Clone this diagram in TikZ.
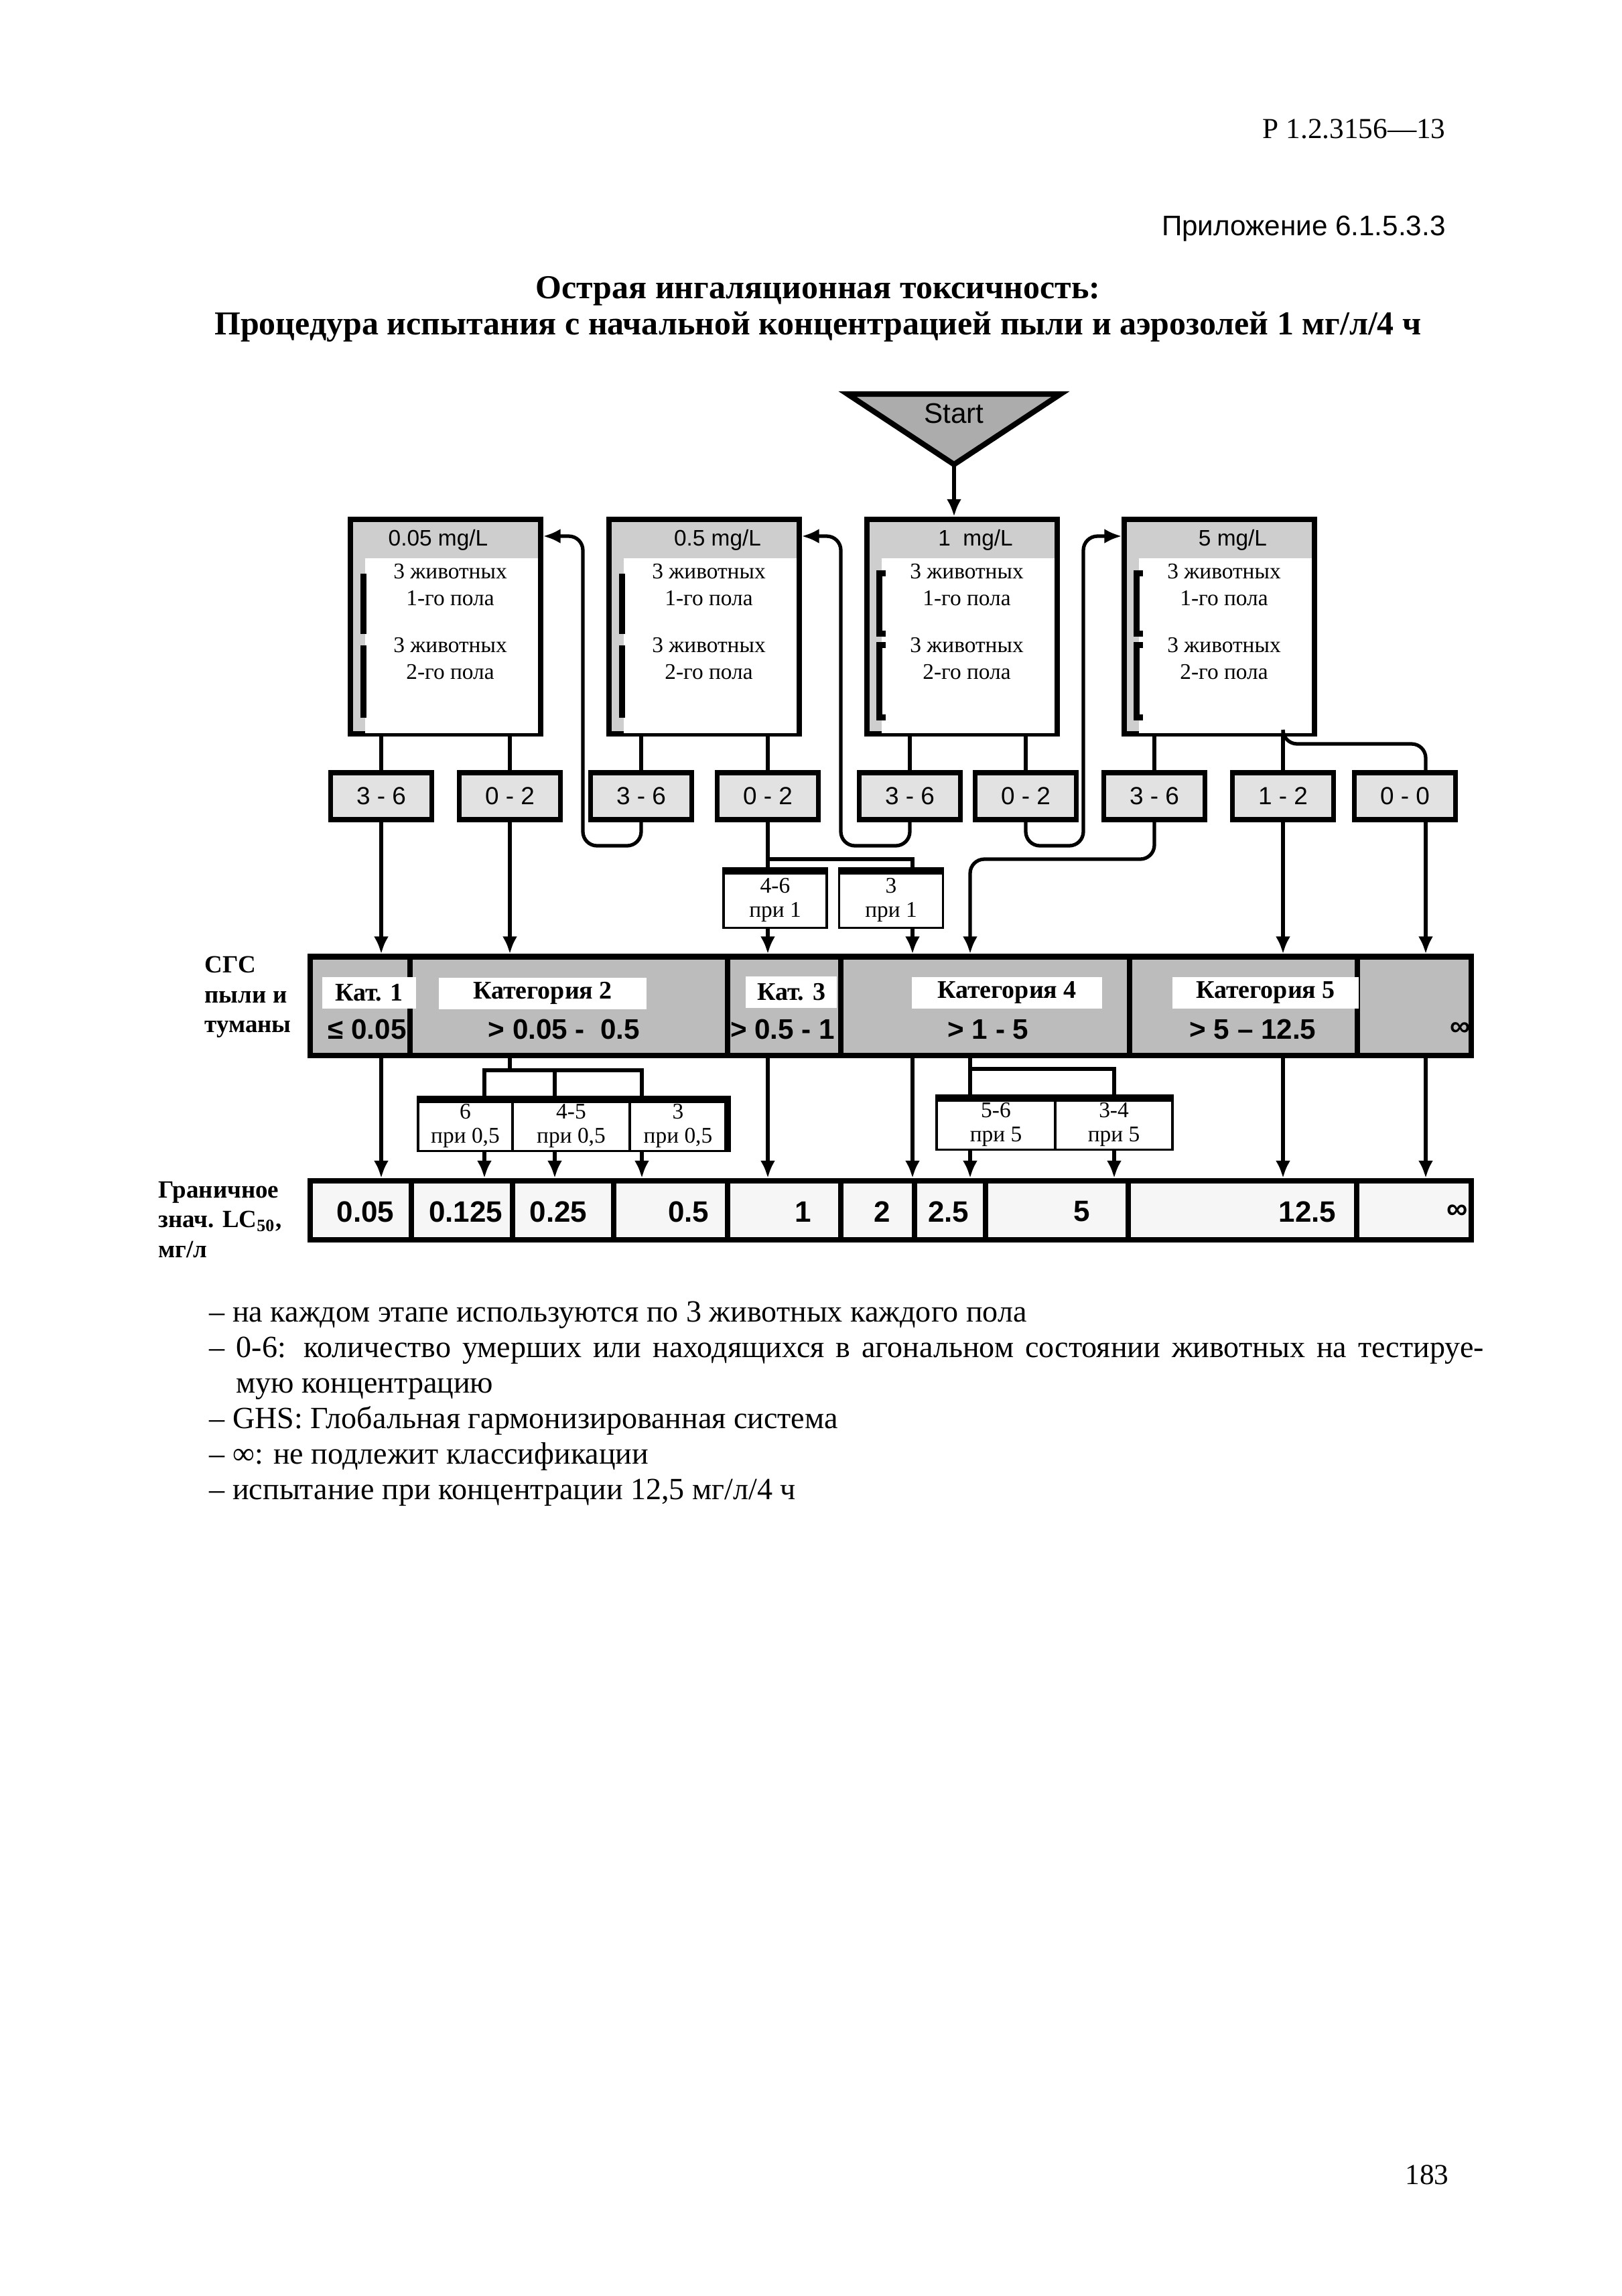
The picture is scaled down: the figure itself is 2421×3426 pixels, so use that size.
\documentclass[tikz,border=0pt]{standalone}
\usepackage{fontspec}
\setmainfont{Liberation Serif}
\setsansfont{Liberation Sans}
\usetikzlibrary{arrows.meta,positioning,calc}
\definecolor{bargray}{RGB}{188,188,188}
\definecolor{headgray}{RGB}{206,206,206}
\definecolor{resgray}{RGB}{226,226,226}
\definecolor{limgray}{RGB}{246,246,246}
\definecolor{startgray}{RGB}{172,172,172}

\begin{document}
\begin{tikzpicture}[x=0.01cm, y=-0.01cm,
    conn/.style={line width=1.5pt},
    arr/.style={conn, -{Latex[length=2.6mm,width=2.2mm]}},
    concbox/.style={draw, line width=2.3pt, fill=headgray, minimum width=28.3mm, minimum height=32mm, inner sep=0pt},
    conclbl/.style={font=\sffamily\fontsize{9.5}{11}\selectfont, inner sep=0pt},
    animals/.style={align=center, font=\fontsize{9.5}{11.4}\selectfont, inner sep=0pt},
    bracket/.style={line width=2.6pt},
    resbox/.style={draw, line width=2.2pt, fill=resgray, minimum width=15.1mm, minimum height=7mm, inner sep=0pt, font=\sffamily\fontsize{10.5}{12}\selectfont},
    catcell/.style={draw, line width=2.3pt, fill=bargray, minimum height=14.7mm, inner sep=0pt},
    catlabel/.style={fill=white, minimum height=4.7mm, inner sep=0pt, font=\bfseries\fontsize{10.8}{12}\selectfont},
    rangelbl/.style={inner sep=0pt, font=\sffamily\bfseries\fontsize{12}{14}\selectfont},
    limcell/.style={draw, line width=2.3pt, fill=limgray, minimum height=8.8mm, inner sep=0pt},
    limval/.style={anchor=east, inner sep=0pt, font=\sffamily\bfseries\fontsize{12.5}{14}\selectfont},
    pribox/.style={draw, line width=1pt, fill=white, align=center, inner sep=0pt, font=\fontsize{9.5}{10.5}\selectfont},
    sidelbl/.style={anchor=west, align=left, inner sep=0pt, font=\bfseries\fontsize{10.5}{12.6}\selectfont}]

    \fill[white] (0,0) rectangle (2421,3426);
    \useasboundingbox (0,0) rectangle (2421,3426);

    % Page header and title
    \node[anchor=east, font=\fontsize{12.3}{14}\selectfont] (docnum) at (2170,192) {Р 1.2.3156—13};
    \node[anchor=east, font=\sffamily\fontsize{12}{14}\selectfont] (annex) at (2170,341) {Приложение 6.1.5.3.3};
    \node[align=center, font=\bfseries\fontsize{14.2}{15.3}\selectfont] (title) at (1221,461)
        {Острая ингаляционная токсичность:\\Процедура испытания с начальной концентрацией пыли и аэрозолей 1 мг/л/4 ч};

    % Start
    \filldraw[fill=startgray, line width=2.3pt] (1265,588) -- (1583,588) -- (1424,693) -- cycle;
    \coordinate (apex) at (1424,693);
    \node[font=\sffamily\fontsize{12}{14}\selectfont] (start) at (1424,617) {Start};

    % Concentration 0.05 mg/L
    \node[concbox] (b1) at (665,935) {};
    \fill[white] ($(b1.north west)+(26,62)$) rectangle ($(b1.south east)+(-8,-5)$);
    \draw[bracket] ($(b1.north west)+(23,85)$) -- ($(b1.north west)+(23,175)$);
    \draw[bracket] ($(b1.north west)+(23,192)$) -- ($(b1.north west)+(23,300)$);
    \node[conclbl] (b1h) at ($(b1.north)+(-11,35)$) {0.05 mg/L};
    \node[animals] (b1u) at ($(b1.center)+(7,-62)$) {3 животных\\1-го пола};
    \node[animals] (b1l) at ($(b1.center)+(7,48)$) {3 животных\\2-го пола};

    % Concentration 0.5 mg/L
    \node[concbox] (b2) at (1051,935) {};
    \fill[white] ($(b2.north west)+(26,62)$) rectangle ($(b2.south east)+(-8,-5)$);
    \draw[bracket] ($(b2.north west)+(23,85)$) -- ($(b2.north west)+(23,175)$);
    \draw[bracket] ($(b2.north west)+(23,192)$) -- ($(b2.north west)+(23,300)$);
    \node[conclbl] (b2h) at ($(b2.north)+(20,35)$) {0.5 mg/L};
    \node[animals] (b2u) at ($(b2.center)+(7,-62)$) {3 животных\\1-го пола};
    \node[animals] (b2l) at ($(b2.center)+(7,48)$) {3 животных\\2-го пола};

    % Concentration 1 mg/L
    \node[concbox] (b3) at (1436,935) {};
    \fill[white] ($(b3.north west)+(26,62)$) rectangle ($(b3.south east)+(-8,-5)$);
    \draw[bracket] ($(b3.north west)+(32,85)$) -- ($(b3.north west)+(22,85)$) -- ($(b3.north west)+(22,175)$) -- ($(b3.north west)+(32,175)$);
    \draw[bracket] ($(b3.north west)+(32,192)$) -- ($(b3.north west)+(22,192)$) -- ($(b3.north west)+(22,300)$) -- ($(b3.north west)+(32,300)$);
    \node[conclbl] (b3h) at ($(b3.north)+(20,35)$) {1\ \ mg/L};
    \node[animals] (b3u) at ($(b3.center)+(7,-62)$) {3 животных\\1-го пола};
    \node[animals] (b3l) at ($(b3.center)+(7,48)$) {3 животных\\2-го пола};

    % Concentration 5 mg/L
    \node[concbox] (b4) at (1820,935) {};
    \fill[white] ($(b4.north west)+(26,62)$) rectangle ($(b4.south east)+(-8,-5)$);
    \draw[bracket] ($(b4.north west)+(32,85)$) -- ($(b4.north west)+(22,85)$) -- ($(b4.north west)+(22,175)$) -- ($(b4.north west)+(32,175)$);
    \draw[bracket] ($(b4.north west)+(32,192)$) -- ($(b4.north west)+(22,192)$) -- ($(b4.north west)+(22,300)$) -- ($(b4.north west)+(32,300)$);
    \node[conclbl] (b4h) at ($(b4.north)+(20,35)$) {5 mg/L};
    \node[animals] (b4u) at ($(b4.center)+(7,-62)$) {3 животных\\1-го пола};
    \node[animals] (b4l) at ($(b4.center)+(7,48)$) {3 животных\\2-го пола};

    % Outcomes (dead animals)
    \node[resbox] (r1a) at (569,1188) {3 - 6};
    \node[resbox] (r1b) at (761,1188) {0 - 2};
    \node[resbox] (r2a) at (957,1188) {3 - 6};
    \node[resbox] (r2b) at (1146,1188) {0 - 2};
    \node[resbox] (r3a) at (1358,1188) {3 - 6};
    \node[resbox] (r3b) at (1531,1188) {0 - 2};
    \node[resbox] (r4a) at (1723,1188) {3 - 6};
    \node[resbox] (r4b) at (1915,1188) {1 - 2};
    \node[resbox] (r4c) at (2097,1188) {0 - 0};

    % Retest at 1 mg/L
    \node[pribox, minimum width=15.4mm, minimum height=8.3mm] (p1a) at (1157,1343) {4-6\\при 1};
    \node[pribox, minimum width=15.5mm, minimum height=8.3mm] (p1b) at (1330,1343) {3\\при 1};
    \draw[line width=3pt] (p1a.north west) -- (p1a.north east);
    \draw[line width=3pt] (p1b.north west) -- (p1b.north east);

    % GHS categories
    \node[catcell, minimum width=14.9mm] (cat1) at (537.5,1501) {};
    \node[catcell, minimum width=47.4mm] (cat2) at (849,1501) {};
    \node[catcell, minimum width=16.9mm] (cat3) at (1170.5,1501) {};
    \node[catcell, minimum width=43.1mm] (cat4) at (1470.5,1501) {};
    \node[catcell, minimum width=34mm] (cat5) at (1856,1501) {};
    \node[catcell, minimum width=17mm] (cat6) at (2111,1501) {};
    \node[catlabel, minimum width=14mm] (l1) at (551,1481) {Кат. 1};
    \node[catlabel, minimum width=30.9mm] (l2) at (810,1482) {Категория 2};
    \node[catlabel, minimum width=13.5mm] (l3) at (1181,1480) {Кат. 3};
    \node[catlabel, minimum width=28.3mm] (l4) at (1503,1481) {Категория 4};
    \node[catlabel, minimum width=27.8mm] (l5) at (1889,1481) {Категория 5};
    \node[rangelbl] (g1) at (548,1536) {≤ 0.05};
    \node[rangelbl] (g2) at (842,1536) {> 0.05 -\ \ 0.5};
    \node[rangelbl] (g3) at (1168,1536) {> 0.5 - 1};
    \node[rangelbl] (g4) at (1475,1536) {> 1 - 5};
    \node[rangelbl] (g5) at (1870,1536) {> 5 – 12.5};
    \node[rangelbl] (g6) at (2180,1536) {∞};
    \node[sidelbl] (ghs) at (305,1488) {СГС\\пыли и\\туманы};

    % Retest at 0.5 and 5 mg/L
    \node[pribox, minimum width=14.1mm, minimum height=7.5mm] (p05a) at (694.5,1680) {6\\при 0,5};
    \node[pribox, minimum width=17.5mm, minimum height=7.5mm] (p05b) at (852.5,1680) {4-5\\при 0,5};
    \node[pribox, minimum width=14.4mm, minimum height=7.5mm] (p05c) at (1012,1680) {3\\при 0,5};
    \draw[line width=3pt] (p05a.north west) -- (p05c.north east) -- (p05c.south east);
    \node[pribox, minimum width=17.7mm, minimum height=7.5mm] (p5a) at (1486.5,1678) {5-6\\при 5};
    \node[pribox, minimum width=17.5mm, minimum height=7.5mm] (p5b) at (1662.5,1678) {3-4\\при 5};
    \draw[line width=3pt] (p5a.north west) -- (p5b.north east);

    % LC50 cut-off values
    \node[limcell, minimum width=15.1mm] (lim1) at (538.5,1806) {};
    \node[limcell, minimum width=15.1mm] (lim2) at (689.5,1806) {};
    \node[limcell, minimum width=15.1mm] (lim3) at (840.5,1806) {};
    \node[limcell, minimum width=17mm] (lim4) at (1001,1806) {};
    \node[limcell, minimum width=16.9mm] (lim5) at (1170.5,1806) {};
    \node[limcell, minimum width=11mm] (lim6) at (1310,1806) {};
    \node[limcell, minimum width=10.6mm] (lim7) at (1418,1806) {};
    \node[limcell, minimum width=21.3mm] (lim8) at (1577.5,1806) {};
    \node[limcell, minimum width=34.1mm] (lim9) at (1854.5,1806) {};
    \node[limcell, minimum width=17.1mm] (lim10) at (2110.5,1806) {};
    \node[limval] (v1) at (589,1808) {0.05};
    \node[limval] (v2) at (751,1808) {0.125};
    \node[limval] (v3) at (877,1808) {0.25};
    \node[limval] (v4) at (1059,1808) {0.5};
    \node[limval] (v5) at (1212,1808) {1};
    \node[limval] (v6) at (1330,1808) {2};
    \node[limval] (v7) at (1447,1808) {2.5};
    \node[limval] (v8) at (1628,1808) {5};
    \node[limval] (v9) at (1995,1808) {12.5};
    \node[limval] (v10) at (2192,1808) {∞};
    \node[sidelbl] (lc) at (236,1820) {Граничное\\знач. LC\textsubscript{50},\\мг/л};

    % Junction points
    \coordinate (lvl) at (0,800);
    \coordinate (lp1) at (870,1262);
    \coordinate (lp2) at (1255,1262);
    \coordinate (lp3) at (1617,1262);
    \coordinate (j1) at (1362,1282);
    \coordinate (j2) at (1448,1282);
    \coordinate (j3) at (2128,1110);
    \coordinate (k1) at (723,1597);
    \coordinate (k2) at (828,1597);
    \coordinate (k3) at (958,1597);
    \coordinate (k4) at (1663,1595);

    % Connectors
    \draw[arr] (apex) -- (apex |- b3.north);
    \draw[conn] (b1.south -| r1a) -- (r1a.north);
    \draw[conn] (b1.south -| r1b) -- (r1b.north);
    \draw[conn] (b2.south -| r2a) -- (r2a.north);
    \draw[conn] (b2.south -| r2b) -- (r2b.north);
    \draw[conn] (b3.south -| r3a) -- (r3a.north);
    \draw[conn] (b3.south -| r3b) -- (r3b.north);
    \draw[conn] (b4.south -| r4a) -- (r4a.north);
    \draw[conn] (b4.south -| r4b) -- (r4b.north);
    \draw[conn, rounded corners=6pt] (b4.south -| r4b) |- (j3) -- (j3 |- r4c.north);

    \draw[arr, rounded corners=6pt] (r2a.south) |- (lp1) -- (lp1 |- lvl) -- (b1.east |- lvl);
    \draw[arr, rounded corners=6pt] (r3a.south) |- (lp2) -- (lp2 |- lvl) -- (b2.east |- lvl);
    \draw[arr, rounded corners=6pt] (r3b.south) |- (lp3) -- (lp3 |- lvl) -- (b4.west |- lvl);

    \draw[arr] (r1a.south) -- (r1a.south |- cat1.north);
    \draw[arr] (r1b.south) -- (r1b.south |- cat2.north);
    \draw[conn] (r2b.south) -- (r2b.south |- p1a.north);
    \draw[conn] (r2b.south |- j1) -- (j1) -- (j1 |- p1b.north);
    \draw[arr] (r2b.south |- p1a.south) -- (r2b.south |- cat3.north);
    \draw[arr] (j1 |- p1b.south) -- (j1 |- cat4.north);
    \draw[arr, rounded corners=6pt] (r4a.south) |- (j2) -- (j2 |- cat4.north);
    \draw[arr] (r4b.south) -- (r4b.south |- cat5.north);
    \draw[arr] (j3 |- r4c.south) -- (j3 |- cat6.north);

    \draw[arr] (r1a.south |- cat1.south) -- (r1a.south |- lim1.north);
    \draw[conn] (r1b.south |- cat2.south) -- (r1b.south |- k1);
    \draw[conn] (k1 |- p05a.north) -- (k1) -- (k3) -- (k3 |- p05c.north);
    \draw[conn] (k2) -- (k2 |- p05b.north);
    \draw[arr] (k1 |- p05a.south) -- (k1 |- lim2.north);
    \draw[arr] (k2 |- p05b.south) -- (k2 |- lim3.north);
    \draw[arr] (k3 |- p05c.south) -- (k3 |- lim4.north);
    \draw[arr] (r2b.south |- cat3.south) -- (r2b.south |- lim5.north);
    \draw[arr] (j1 |- cat4.south) -- (j1 |- lim6.north);
    \draw[conn] (j2 |- cat4.south) -- (j2 |- p5a.north);
    \draw[conn] (j2 |- k4) -- (k4) -- (k4 |- p5b.north);
    \draw[arr] (j2 |- p5a.south) -- (j2 |- lim7.north);
    \draw[arr] (k4 |- p5b.south) -- (k4 |- lim8.north);
    \draw[arr] (r4b.south |- cat5.south) -- (r4b.south |- lim9.north);
    \draw[arr] (j3 |- cat6.south) -- (j3 |- lim10.north);

    % Notes
    \node[anchor=north west, align=left, inner sep=0pt, font=\fontsize{13.1}{15.1}\selectfont] (notes) at (312,1941)
        {– на каждом этапе используются по 3 животных каждого пола\\
         \makebox[190.1mm][s]{– 0-6: количество умерших или находящихся в агональном состоянии животных на тестируе-}\\
         \hspace*{4mm}мую концентрацию\\
         – GHS: Глобальная гармонизированная система\\
         – ∞: не подлежит классификации\\
         – испытание при концентрации 12,5 мг/л/4 ч};

    \node[anchor=east, font=\fontsize{12.3}{14}\selectfont] (pageno) at (2175,3245) {183};
\end{tikzpicture}
\end{document}
